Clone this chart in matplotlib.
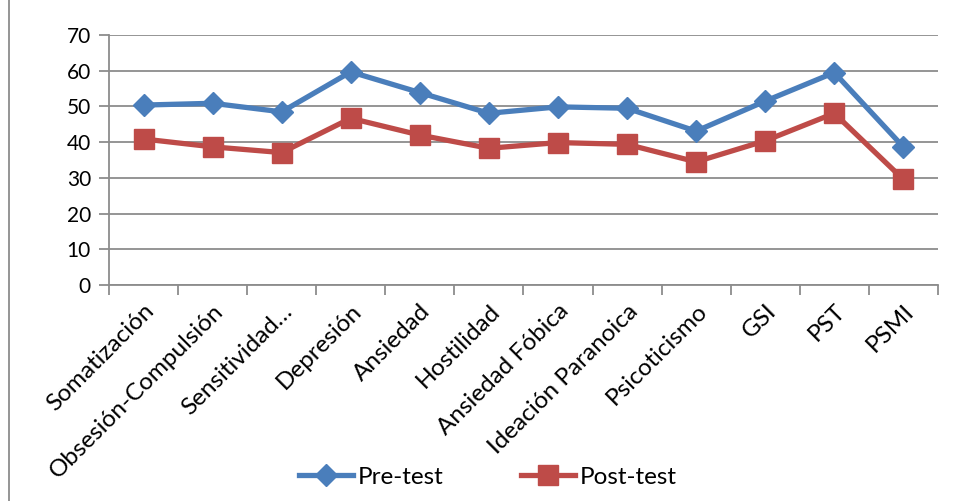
import matplotlib.pyplot as plt
from matplotlib.lines import Line2D

categorias = ['Somatización', 'Obsesión-Compulsión', 'Sensitividad…', 'Depresión',
              'Ansiedad', 'Hostilidad', 'Ansiedad Fóbica', 'Ideación Paranoica',
              'Psicoticismo', 'GSI', 'PST', 'PSMI']
pre_test = [50.4, 50.9, 48.5, 59.7, 53.9, 48.1, 49.9, 49.5, 43.1, 51.5, 59.5, 38.7]
post_test = [40.9, 38.7, 37.1, 46.7, 42.0, 38.3, 39.9, 39.4, 34.5, 40.4, 48.1, 29.6]
y_ticks = [0, 10, 20, 30, 40, 50, 60, 70]

plt.rcParams['font.family'] = ['Lato', 'DejaVu Sans']

fig = plt.figure(figsize=(9.57, 5.01), dpi=100)
ax = fig.add_axes([0.1139, 0.431, 0.8661, 0.499])

x = list(range(len(categorias)))
ax.plot(x, pre_test, color='#4A7EBB', lw=3.8, marker='D', markersize=11, label='Pre-test')
ax.plot(x, post_test, color='#BE4B48', lw=3.8, marker='s', markersize=14, label='Post-test')

ax.set_xlim(-0.5, len(categorias) - 0.5)
ax.set_ylim(0, 70)
ax.set_yticks(y_ticks)
ax.yaxis.grid(True, color='#8c8c8c', lw=1.3)
ax.set_axisbelow(True)
for s in ['top', 'right']:
    ax.spines[s].set_visible(False)
for s in ['left', 'bottom']:
    ax.spines[s].set_color('#8c8c8c')
    ax.spines[s].set_linewidth(1.3)

ax.set_xticks(x)
ax.set_xticklabels(categorias, rotation=45, ha='right', rotation_mode='anchor', fontsize=17.5)
ax.tick_params(axis='x', length=0, pad=11)
ax.set_xticks([i - 0.5 for i in range(len(categorias) + 1)], minor=True)
ax.tick_params(axis='x', which='minor', length=7, color='#8c8c8c', width=1.3)
ax.tick_params(axis='y', length=7, color='#8c8c8c', width=1.3, labelsize=15, pad=6)

# legend at the bottom
handles = [Line2D([], [], color='#4A7EBB', lw=3.8, marker='D', markersize=11),
           Line2D([], [], color='#BE4B48', lw=3.8, marker='s', markersize=14)]
fig.legend(handles, ['Pre-test', 'Post-test'], loc='center', bbox_to_anchor=(0.51, 0.047),
           ncol=2, frameon=False, fontsize=17.5, handlelength=2.2, columnspacing=3.2,
           handletextpad=0.2)

# chart frame (left edge only visible in the original crop)
fig.add_artist(Line2D([0.009, 0.009], [0, 1], transform=fig.transFigure,
                      color='#8c8c8c', lw=1.3))

fig.savefig('out.png', dpi=100)
